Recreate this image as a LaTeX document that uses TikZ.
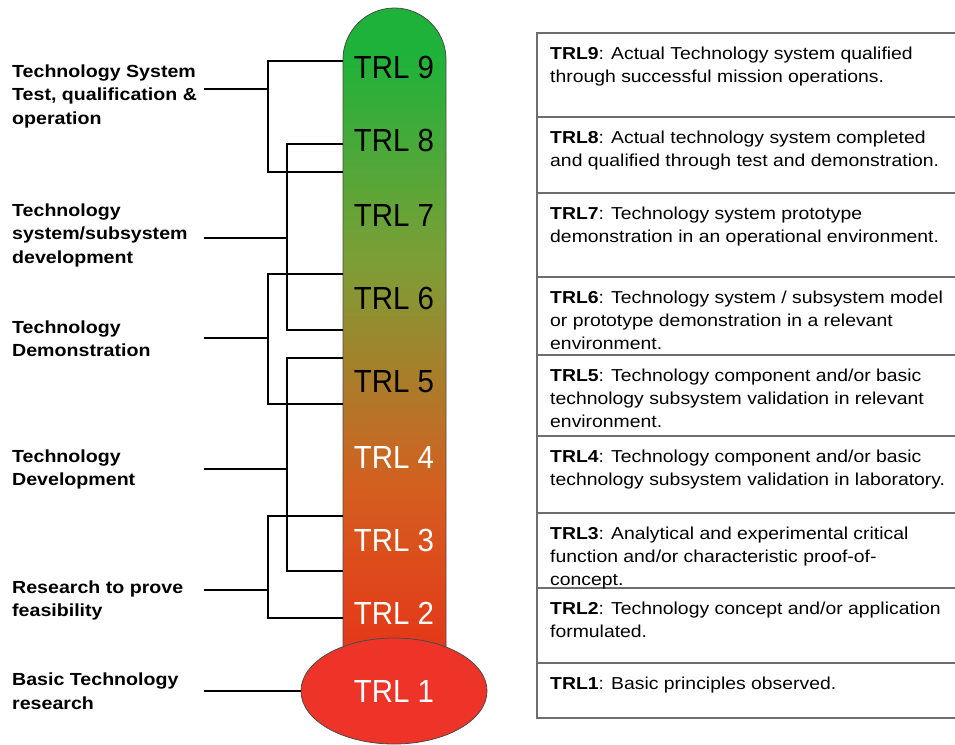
\documentclass[tikz,border=0pt]{standalone}
\usepackage{fontspec}
\setmainfont[FakeStretch=1.12]{Liberation Sans}
\newfontfamily\trlfont[FakeStretch=0.92]{Liberation Sans}
\usetikzlibrary{shapes.geometric}

% thermometer colours
\definecolor{trlgreen}{HTML}{1FB23A}
\definecolor{trlolive}{HTML}{7C9E36}
\definecolor{trlorange}{HTML}{D55E1F}
\definecolor{trlred}{HTML}{E33A19}
\definecolor{bulbred}{HTML}{EE3429}
\definecolor{rulegray}{HTML}{6E6E6E}
\definecolor{outline}{HTML}{4A4A4A}

% vertical fill of the tube: red at the bottom, green at the top
\pgfdeclareverticalshading{trlbar}{100bp}{%
  color(0bp)=(trlred); color(26.9bp)=(trlred);
  color(38.3bp)=(trlorange); color(55.8bp)=(trlolive);
  color(71.4bp)=(trlgreen); color(100bp)=(trlgreen)}

\tikzset{
  conn/.style={line width=1.8pt, black},
  tablerule/.style={line width=1.3pt, rulegray},
  phase/.style={anchor=north west, inner sep=0pt, align=left,
    font=\fontsize{17.5}{23.4}\selectfont\bfseries},
  celltext/.style={anchor=north west, inner sep=0pt, align=left,
    font=\fontsize{17.3}{23}\selectfont},
  level/.style={inner sep=0pt, font=\trlfont\fontsize{32}{36}\selectfont},
}

\begin{document}
\begin{tikzpicture}[x=1pt, y=-1pt]
\useasboundingbox (0,0) rectangle (955,744);
\fill[white] (0,0) rectangle (955,744);

% ---------- description table ----------
\draw[tablerule] (962,33) -- (537,33) -- (537,718) -- (962,718);
\foreach \yy in {117,193,277,355,436,513,588,663}
  \draw[tablerule] (537,\yy) -- (962,\yy);

\node[celltext] (d9) at (550,46.5) {\textbf{TRL9}: Actual Technology system qualified\\through successful mission operations.};
\node[celltext] (d8) at (550,130.5) {\textbf{TRL8}: Actual technology system completed\\and qualified through test and demonstration.};
\node[celltext] (d7) at (550,206.5) {\textbf{TRL7}: Technology system prototype\\demonstration in an operational environment.};
\node[celltext] (d6) at (550,290.5) {\textbf{TRL6}: Technology system / subsystem model\\or prototype demonstration in a relevant\\environment.};
\node[celltext] (d5) at (550,368.5) {\textbf{TRL5}: Technology component and/or basic\\technology subsystem validation in relevant\\environment.};
\node[celltext] (d4) at (550,449.5) {\textbf{TRL4}: Technology component and/or basic\\technology subsystem validation in laboratory.};
\node[celltext] (d3) at (550,526.5) {\textbf{TRL3}: Analytical and experimental critical\\function and/or characteristic proof-of-\\concept.};
\node[celltext] (d2) at (550,601.5) {\textbf{TRL2}: Technology concept and/or application\\formulated.};
\node[celltext] (d1) at (550,676.5) {\textbf{TRL1}: Basic principles observed.};

% ---------- thermometer ----------
\path[shading=trlbar, draw=outline, line width=0.8pt]
  (343,665) -- (343,59.5) arc[start angle=180, end angle=360, radius=51.5]
  -- (446,665) -- cycle;
\node[ellipse, fill=bulbred, draw=outline, line width=0.8pt,
      minimum width=186pt, minimum height=106pt, inner sep=0pt,
      text=white, font=\trlfont\fontsize{32}{36}\selectfont] (trl1) at (394,691) {TRL 1};

\node[level, text=black] (trl9) at (394,67) {TRL 9};
\node[level, text=black] (trl8) at (394,140) {TRL 8};
\node[level, text=black] (trl7) at (394,215) {TRL 7};
\node[level, text=black] (trl6) at (394,298) {TRL 6};
\node[level, text=black] (trl5) at (394,382) {TRL 5};
\node[level, text=white] (trl4) at (394,457) {TRL 4};
\node[level, text=white] (trl3) at (394,540) {TRL 3};
\node[level, text=white] (trl2) at (394,613) {TRL 2};

% ---------- phase labels ----------
\node[phase] (p1) at (12,64.5) {Technology System\\Test, qualification \&\\operation};
\node[phase] (p2) at (12,203.5) {Technology\\system/subsystem\\development};
\node[phase] (p3) at (12,320.5) {Technology\\Demonstration};
\node[phase] (p4) at (12,449.5) {Technology\\Development};
\node[phase] (p5) at (12,580.5) {Research to prove\\feasibility};
\node[phase] (p6) at (12,673) {Basic Technology\\research};

% ---------- brackets joining phases to levels ----------
\coordinate (j1t) at (343,61);  \coordinate (j1b) at (343,172);
\coordinate (k1) at (268,89);   \coordinate (s1) at (204,89);
\coordinate (j2t) at (343,144); \coordinate (j2b) at (343,330);
\coordinate (k2) at (287,238);  \coordinate (s2) at (204,238);
\coordinate (j3t) at (343,274); \coordinate (j3b) at (343,404);
\coordinate (k3) at (268,338);  \coordinate (s3) at (204,338);
\coordinate (j4t) at (343,358); \coordinate (j4b) at (343,571);
\coordinate (k4) at (287,469);  \coordinate (s4) at (204,469);
\coordinate (j5t) at (343,516); \coordinate (j5b) at (343,618);
\coordinate (k5) at (268,590);  \coordinate (s5) at (204,590);
\coordinate (s6) at (204,691);

\draw[conn] (j1t) -| (k1) |- (j1b);  \draw[conn] (s1) -- (k1);
\draw[conn] (j2t) -| (k2) |- (j2b);  \draw[conn] (s2) -- (k2);
\draw[conn] (j3t) -| (k3) |- (j3b);  \draw[conn] (s3) -- (k3);
\draw[conn] (j4t) -| (k4) |- (j4b);  \draw[conn] (s4) -- (k4);
\draw[conn] (j5t) -| (k5) |- (j5b);  \draw[conn] (s5) -- (k5);
\draw[conn] (s6) -- (trl1.west);
\end{tikzpicture}
\end{document}
